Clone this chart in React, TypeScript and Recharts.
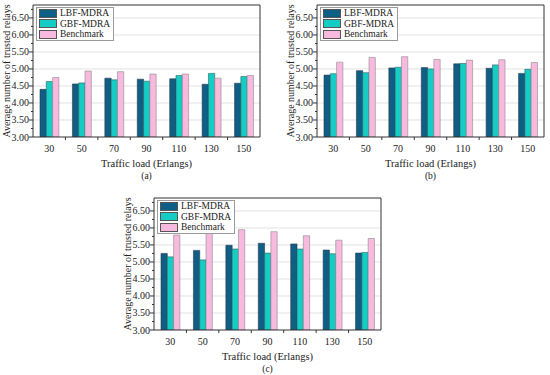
import React from 'react';
import { BarChart, Bar, XAxis, YAxis, CartesianGrid, Legend, Label, ReferenceLine } from 'recharts';

const categories = ['30', '50', '70', '90', '110', '130', '150'];
const seriesNames = ['LBF-MDRA', 'GBF-MDRA', 'Benchmark'];

const lbfA = [4.40, 4.56, 4.73, 4.70, 4.71, 4.55, 4.58];
const gbfA = [4.63, 4.59, 4.68, 4.64, 4.81, 4.87, 4.78];
const benchA = [4.75, 4.94, 4.92, 4.85, 4.85, 4.73, 4.81];

const lbfB = [4.82, 4.95, 5.03, 5.04, 5.15, 5.02, 4.87];
const gbfB = [4.86, 4.89, 5.05, 5.00, 5.16, 5.12, 4.99];
const benchB = [5.20, 5.34, 5.36, 5.28, 5.26, 5.27, 5.19];

const lbfC = [5.25, 5.34, 5.49, 5.55, 5.53, 5.35, 5.26];
const gbfC = [5.15, 5.06, 5.38, 5.26, 5.38, 5.24, 5.28];
const benchC = [5.79, 5.97, 5.95, 5.89, 5.77, 5.64, 5.69];

const yTicks = [3.0, 3.25, 3.5, 3.75, 4.0, 4.25, 4.5, 4.75, 5.0, 5.25, 5.5, 5.75, 6.0, 6.25, 6.5, 6.75];
const gridValues = [3.5, 4.0, 4.5, 5.0, 5.5, 6.0, 6.5];
const yMin = 3;
const yMax = 6.88;

const xTitle = 'Traffic load (Erlangs)';
const yTitle = 'Average number of trusted relays';

const FONT = '"Liberation Serif", "Times New Roman", serif';
const AXIS_W = 33;
const TOP = 5;
const PLOT_W = 227;
const PLOT_H = 132;
const RIGHT = 5;
const XAXIS_H = 45;
const PLOT_B = TOP + PLOT_H;
const BAND = PLOT_W / categories.length;

const COLORS = ['#0e5e86', '#16cdc6', '#f8b9df'];
const STROKES = ['#2b3b47', '#2b5f5d', '#8a8a8a'];
const AXIS_COLOR = '#333';

function buildRows(a: number[], b: number[], c: number[]) {
  return categories.map((load, i) => ({ load, lbf: a[i], gbf: b[i], bench: c[i] }));
}

const YTick = (p: any) => {
  const v: number = p.payload.value;
  const major = Math.abs(v * 2 - Math.round(v * 2)) < 1e-6;
  const y = p.y;
  return (
    <g>
      <line x1={AXIS_W} x2={AXIS_W - (major ? 4 : 2)} y1={y} y2={y} stroke={AXIS_COLOR} strokeWidth={1} />
      {major && (
        <text x={AXIS_W - 4} y={y} textAnchor="end" dominantBaseline="central" fontSize={10} fontFamily={FONT} fill="#222">
          {v.toFixed(2)}
        </text>
      )}
    </g>
  );
};

const XTick = (p: any) => {
  const { x, payload, index } = p;
  return (
    <g>
      <text x={x} y={PLOT_B + 11} textAnchor="middle" dominantBaseline="central" fontSize={10} fontFamily={FONT} fill="#222">
        {payload.value}
      </text>
      {index < categories.length - 1 && (
        <line x1={x + BAND / 2} x2={x + BAND / 2} y1={PLOT_B} y2={PLOT_B + 3} stroke={AXIS_COLOR} strokeWidth={1} />
      )}
    </g>
  );
};

const renderLegend = (props: any) => {
  const payload = [...(props.payload || [])].sort(
    (a: any, b: any) => seriesNames.indexOf(a.value) - seriesNames.indexOf(b.value)
  );
  return (
    <div
      style={{
        background: '#fff',
        border: '1px solid #9a9a9a',
        padding: '0px 3px 0px 2px',
        fontFamily: FONT,
        fontSize: 9.5,
        lineHeight: '10.5px',
        color: '#222',
        whiteSpace: 'nowrap',
        display: 'inline-block',
      }}
    >
      {payload.map((e: any, i: number) => (
        <div key={i} style={{ display: 'flex', alignItems: 'center', height: 10.5 }}>
          <span
            style={{
              display: 'inline-block',
              width: 18,
              height: 9,
              background: e.color,
              border: '1px solid #555',
              boxSizing: 'border-box',
              marginRight: 3,
              flex: 'none',
            }}
          />
          <span>{e.value}</span>
        </div>
      ))}
    </div>
  );
};

function Panel({ left, top, rows, caption }: { left: number; top: number; rows: any[]; caption: string }) {
  return (
    <div style={{ position: 'absolute', left, top }}>
      <BarChart
        width={AXIS_W + PLOT_W + RIGHT}
        height={TOP + PLOT_H + XAXIS_H}
        data={rows}
        margin={{ top: TOP, right: RIGHT, left: 0, bottom: 0 }}
        barGap={0}
      >
        <CartesianGrid vertical={false} stroke="#e2e2e2" horizontalValues={gridValues} />
        <XAxis
          dataKey="load"
          height={XAXIS_H}
          interval={0}
          tickLine={false}
          tick={XTick}
          axisLine={{ stroke: AXIS_COLOR, strokeWidth: 1 }}
        >
          <Label
            content={(lp: any) => {
              const vb = lp.viewBox || { x: AXIS_W, y: PLOT_B, width: PLOT_W };
              const cx = vb.x + vb.width / 2;
              return (
                <g>
                  <text x={cx} y={vb.y + 26} textAnchor="middle" dominantBaseline="central" fontSize={10.5} fontFamily={FONT} fill="#222">
                    {xTitle}
                  </text>
                  <text x={cx} y={vb.y + 38.5} textAnchor="middle" dominantBaseline="central" fontSize={9.5} fontFamily={FONT} fill="#222">
                    {caption}
                  </text>
                </g>
              );
            }}
          />
        </XAxis>
        <YAxis
          width={AXIS_W}
          domain={[yMin, yMax]}
          ticks={yTicks}
          interval={0}
          allowDataOverflow
          tickLine={false}
          tick={YTick}
          axisLine={{ stroke: AXIS_COLOR, strokeWidth: 1 }}
        >
          <Label
            content={() => {
              const cx = AXIS_W - 27;
              const cy = TOP + PLOT_H / 2;
              return (
                <text
                  x={cx}
                  y={cy}
                  transform={`rotate(-90 ${cx} ${cy})`}
                  textAnchor="middle"
                  dominantBaseline="central"
                  fontSize={10}
                  fontFamily={FONT}
                  fill="#222"
                >
                  {yTitle}
                </text>
              );
            }}
          />
        </YAxis>
        <Legend
          layout="horizontal"
          verticalAlign="middle"
          align="center"
          content={renderLegend}
          wrapperStyle={{ position: 'absolute', left: AXIS_W + 3, top: TOP + 2, width: 'auto', height: 'auto' }}
        />
        <Bar dataKey="lbf" name={seriesNames[0]} fill={COLORS[0]} stroke={STROKES[0]} strokeWidth={0.6} barSize={6.3} isAnimationActive={false} />
        <Bar dataKey="gbf" name={seriesNames[1]} fill={COLORS[1]} stroke={STROKES[1]} strokeWidth={0.6} barSize={6.3} isAnimationActive={false} />
        <Bar dataKey="bench" name={seriesNames[2]} fill={COLORS[2]} stroke={STROKES[2]} strokeWidth={0.6} barSize={6.3} isAnimationActive={false} />
        <ReferenceLine y={yMax} stroke={AXIS_COLOR} strokeWidth={1} ifOverflow="visible" />
        <ReferenceLine x={categories[categories.length - 1]} position="end" stroke={AXIS_COLOR} strokeWidth={1} ifOverflow="visible" />
      </BarChart>
    </div>
  );
}

export default function App() {
  return (
    <div style={{ position: 'absolute', left: 0, top: 0, width: 550, height: 375, background: '#fff', overflow: 'hidden' }}>
      <Panel left={0} top={0} rows={buildRows(lbfA, gbfA, benchA)} caption="(a)" />
      <Panel left={284} top={0} rows={buildRows(lbfB, gbfB, benchB)} caption="(b)" />
      <Panel left={121} top={193} rows={buildRows(lbfC, gbfC, benchC)} caption="(c)" />
    </div>
  );
}
